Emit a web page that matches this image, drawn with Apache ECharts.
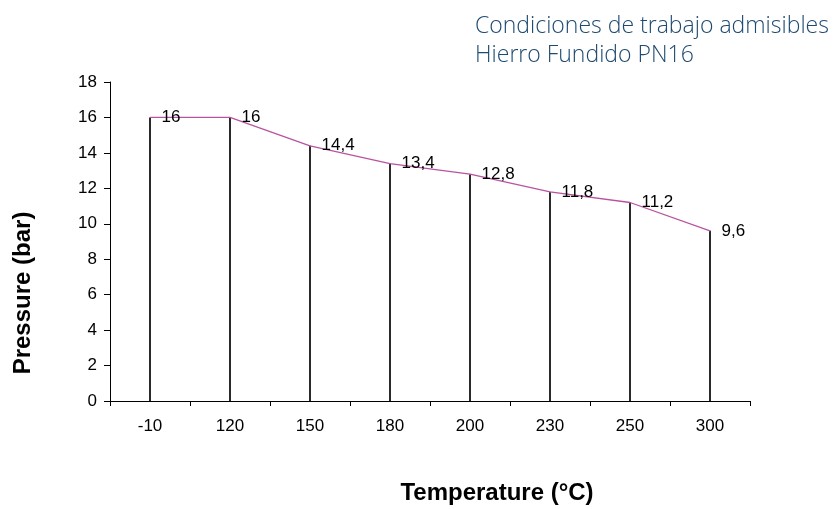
<!DOCTYPE html>
<html><head><meta charset="utf-8">
<script src="https://cdn.jsdelivr.net/npm/echarts@6/dist/echarts.min.js"></script>
<style>html,body{margin:0;padding:0;background:#fff}#c{width:834px;height:509px}</style>
</head><body><div id="c"></div>
<script>
const categories = ['-10', '120', '150', '180', '200', '230', '250', '300'];
const pressure = [16, 16, 14.4, 13.4, 12.8, 11.8, 11.2, 9.6];
const yTicks = [0, 2, 4, 6, 8, 10, 12, 14, 16, 18];
const titleLines = ['Condiciones de trabajo admisibles', 'Hierro Fundido PN16'];

const chart = echarts.init(document.getElementById('c'), null, {renderer: 'canvas'});
const font = 'Liberation Sans, Arial, sans-serif';
chart.setOption({
  animation: false,
  backgroundColor: '#fff',
  grid: {left: 110, right: 84, top: 82, bottom: 108},
  graphic: [
    {type: 'text', left: 475, top: 12, style: {text: titleLines.join('\n'), font: '300 23px "Open Sans", Roboto, sans-serif', fill: '#1e4a70', lineHeight: 29}},
    {type: 'text', x: 23, y: 293, rotation: Math.PI / 2, style: {text: 'Pressure (bar)', font: 'bold 24px ' + font, fill: '#000', align: 'center', verticalAlign: 'middle'}},
    {type: 'text', x: 497, y: 493, style: {text: 'Temperature (\u00B0C)', font: 'bold 24px ' + font, fill: '#000', align: 'center', verticalAlign: 'middle'}}
  ],
  xAxis: {
    type: 'category', data: categories, boundaryGap: true,
    axisLine: {lineStyle: {color: '#000', width: 1}},
    axisTick: {show: true, inside: false, length: 5, lineStyle: {color: '#000'}},
    axisLabel: {color: '#000', fontSize: 17, fontFamily: font, margin: 17}
  },
  yAxis: {
    type: 'value', min: yTicks[0], max: yTicks[yTicks.length - 1], interval: 2,
    axisLine: {show: true, lineStyle: {color: '#000', width: 1}},
    axisTick: {show: true, length: 6, lineStyle: {color: '#000'}},
    axisLabel: {color: '#000', fontSize: 17, fontFamily: font, margin: 13},
    splitLine: {show: false}
  },
  series: [
    {type: 'bar', data: pressure, barWidth: 2, itemStyle: {color: '#2a2a2a'}, silent: true},
    {type: 'line', data: pressure, symbol: 'circle', symbolSize: 1, showSymbol: true,
     itemStyle: {color: '#b9539f'},
     lineStyle: {color: '#b9539f', width: 1.3},
     label: {show: true, position: 'right', distance: 11, color: '#000', fontSize: 17, fontFamily: font,
       formatter: p => String(p.value).replace('.', ',')}}
  ]
});
</script></body></html>
